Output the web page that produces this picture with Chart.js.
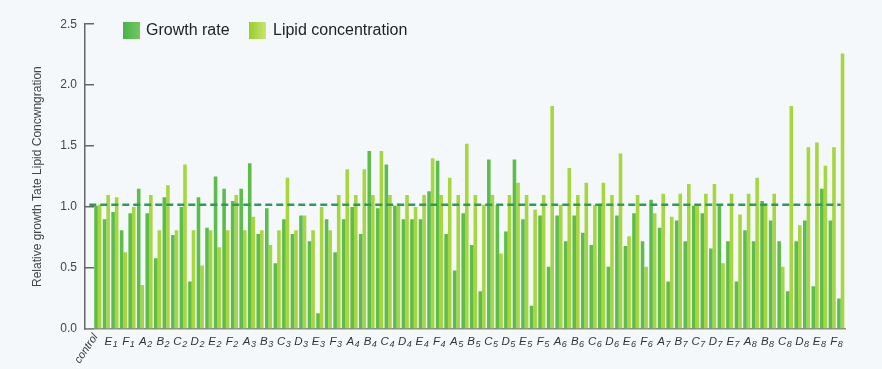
<!DOCTYPE html>
<html>
<head>
<meta charset="utf-8">
<script src="https://cdn.jsdelivr.net/npm/chart.js@4.4.1/dist/chart.umd.min.js"></script>
<style>
    html, body { margin: 0; padding: 0; background: #f5f8fa; }
    .wrap { position: relative; width: 882px; height: 369px; }
    .legend { position: absolute; top: 22px; font: 16px "Liberation Sans", Arial, sans-serif; color: #222; }
    .legend span.box { position: absolute; top: 0; width: 17px; height: 17px; }
    .legend span.txt { position: absolute; top: -1px; white-space: nowrap; }
</style>
</head>
<body>
<div class="wrap">
    <canvas id="chart" width="882" height="369"></canvas>
    <div class="legend" style="left:123px">
        <span class="box" style="left:0;background:linear-gradient(to right,#47b34a,#74c85c)"></span>
        <span class="txt" style="left:23px">Growth rate</span>
    </div>
    <div class="legend" style="left:249px">
        <span class="box" style="left:0;background:linear-gradient(to right,#98cd2c,#c9e46e)"></span>
        <span class="txt" style="left:24px">Lipid concentration</span>
    </div>
</div>
<script>
// strain labels along the x axis (spread evenly under the 88 bar pairs)
const categories = [
    'control', 'E1', 'F1', 'A2', 'B2', 'C2', 'D2', 'E2', 'F2',
    'A3', 'B3', 'C3', 'D3', 'E3', 'F3',
    'A4', 'B4', 'C4', 'D4', 'E4', 'F4',
    'A5', 'B5', 'C5', 'D5', 'E5', 'F5',
    'A6', 'B6', 'C6', 'D6', 'E6', 'F6',
    'A7', 'B7', 'C7', 'D7', 'E7',
    'A8', 'B8', 'C8', 'D8', 'E8', 'F8'
];

const growthRate = [
    1.01, 0.90, 0.96, 0.81, 0.95, 1.15, 0.95, 0.58, 1.08, 0.77,
    1.00, 0.39, 1.08, 0.83, 1.25, 1.15, 1.05, 1.15, 1.36, 0.78,
    0.99, 0.54, 0.90, 0.78, 0.93, 0.72, 0.13, 0.90, 0.63, 0.90,
    1.00, 0.78, 1.46, 0.99, 1.35, 1.01, 0.90, 0.90, 0.90, 1.13,
    1.38, 0.78, 0.48, 0.95, 0.69, 0.31, 1.39, 1.02, 0.80, 1.39,
    0.90, 0.19, 0.93, 0.51, 0.93, 0.72, 0.93, 0.79, 0.69, 1.02,
    0.51, 0.93, 0.68, 0.95, 0.72, 1.06, 0.83, 0.39, 0.89, 0.72,
    1.01, 0.95, 0.66, 1.01, 0.72, 0.39, 0.81, 0.72, 1.05, 0.89,
    0.72, 0.31, 0.72, 0.89, 0.35, 1.15, 0.89, 0.25
];

const lipidConcentration = [
    1.02, 1.10, 1.08, 0.63, 1.00, 0.36, 1.10, 0.81, 1.18, 0.81,
    1.35, 0.81, 0.52, 0.81, 0.67, 0.81, 1.10, 0.81, 0.92, 0.81,
    0.69, 0.81, 1.24, 0.81, 0.93, 0.81, 1.00, 0.81, 1.10, 1.31,
    1.10, 1.31, 1.10, 1.46, 1.10, 1.03, 1.10, 1.00, 1.10, 1.40,
    1.10, 1.24, 1.10, 1.52, 1.10, 1.02, 1.10, 0.62, 1.10, 1.20,
    1.10, 0.98, 1.10, 1.83, 1.02, 1.32, 1.10, 1.20, 1.02, 1.20,
    1.10, 1.44, 0.76, 1.10, 0.51, 0.95, 1.11, 0.92, 1.11, 1.19,
    1.01, 1.11, 1.19, 0.54, 1.11, 0.94, 1.11, 1.24, 1.03, 1.11,
    0.51, 1.83, 0.85, 1.49, 1.53, 1.34, 1.49, 2.26
];

const controlLevel = 1.02;
const yTicks = [0, 0.5, 1.0, 1.5, 2.0, 2.5];

// bar slots; an empty slot in front keeps the first bars clear of the y axis
const barSlots = [''].concat(growthRate.map((v, i) => String(i + 1)));
const pad = v => [null].concat(v);

// page background
const background = {
    id: 'background',
    beforeDraw(chart) {
        const ctx = chart.ctx;
        ctx.save();
        ctx.fillStyle = '#f5f8fa';
        ctx.fillRect(0, 0, chart.width, chart.height);
        ctx.restore();
    }
};

// strain labels with subscript numbers, 'control' slanted
const xLabels = {
    id: 'xLabels',
    afterDraw(chart) {
        const ctx = chart.ctx;
        const scale = chart.scales.x2;
        const top = chart.scales.x.top;
        ctx.save();
        ctx.fillStyle = '#333';
        categories.forEach((name, i) => {
            const px = scale.getPixelForValue(i);
            if (name === 'control') {
                ctx.save();
                ctx.translate(px + 2, top + 6);
                ctx.rotate(-56 * Math.PI / 180);
                ctx.font = 'italic 11px "Liberation Sans", Arial, sans-serif';
                ctx.textAlign = 'right';
                ctx.textBaseline = 'middle';
                ctx.fillText(name, 0, 0);
                ctx.restore();
                return;
            }
            const letter = name.slice(0, 1);
            const digit = name.slice(1);
            ctx.font = 'italic 11.5px "Liberation Sans", Arial, sans-serif';
            const w1 = ctx.measureText(letter).width;
            ctx.font = 'italic 9px "Liberation Sans", Arial, sans-serif';
            const w2 = ctx.measureText(digit).width;
            const x0 = px - (w1 + w2) / 2;
            ctx.textAlign = 'left';
            ctx.textBaseline = 'alphabetic';
            ctx.font = 'italic 11.5px "Liberation Sans", Arial, sans-serif';
            ctx.fillText(letter, x0, top + 16);
            ctx.font = 'italic 9px "Liberation Sans", Arial, sans-serif';
            ctx.fillText(digit, x0 + w1 + 0.5, top + 18);
        });
        ctx.restore();
    }
};

new Chart(document.getElementById('chart'), {
    type: 'bar',
    data: {
        labels: barSlots,
        datasets: [{
            type: 'line',
            label: 'Control',
            data: barSlots.map(() => controlLevel),
            borderColor: '#2e9a5f',
            borderWidth: 2.5,
            borderDash: [7, 4],
            pointRadius: 0,
            fill: false,
            order: 0
        }, {
            label: 'Growth rate',
            data: pad(growthRate),
            backgroundColor: '#5cbd4a',
            order: 1
        }, {
            label: 'Lipid concentration',
            data: pad(lipidConcentration),
            backgroundColor: '#a7d63e',
            order: 1
        }]
    },
    options: {
        responsive: false,
        animation: false,
        devicePixelRatio: 1,
        layout: {
            padding: { top: 20, right: 37, left: 0, bottom: 0 }
        },
        datasets: {
            bar: {
                categoryPercentage: 0.84,
                barPercentage: 1.0
            }
        },
        plugins: {
            legend: { display: false },
            tooltip: { enabled: false }
        },
        scales: {
            x: {
                grid: { drawOnChartArea: false, drawTicks: false },
                border: { color: '#8a8a8a', width: 1.5 },
                ticks: { display: false },
                afterFit(scale) {
                    scale.height = 40;
                }
            },
            x2: {
                type: 'category',
                labels: categories,
                position: 'bottom',
                display: false
            },
            y: {
                min: 0,
                max: 2.5,
                afterBuildTicks(scale) {
                    scale.ticks = yTicks.map(v => ({ value: v }));
                },
                grid: {
                    drawOnChartArea: false,
                    tickLength: -9,
                    color: '#666',
                    lineWidth: 1.5
                },
                border: { color: '#666', width: 1.5 },
                ticks: {
                    padding: 17,
                    color: '#444',
                    font: { family: '"Liberation Sans", Arial, sans-serif', size: 12 },
                    callback: v => v.toFixed(1)
                },
                title: {
                    display: true,
                    text: 'Relative growth Tate Lipid Concwngration',
                    color: '#444',
                    font: { family: '"Liberation Sans", Arial, sans-serif', size: 12 },
                    padding: { top: 30, bottom: 0 }
                },
                afterFit(scale) {
                    scale.width = 85;
                }
            }
        }
    },
    plugins: [background, xLabels]
});
</script>
</body>
</html>
